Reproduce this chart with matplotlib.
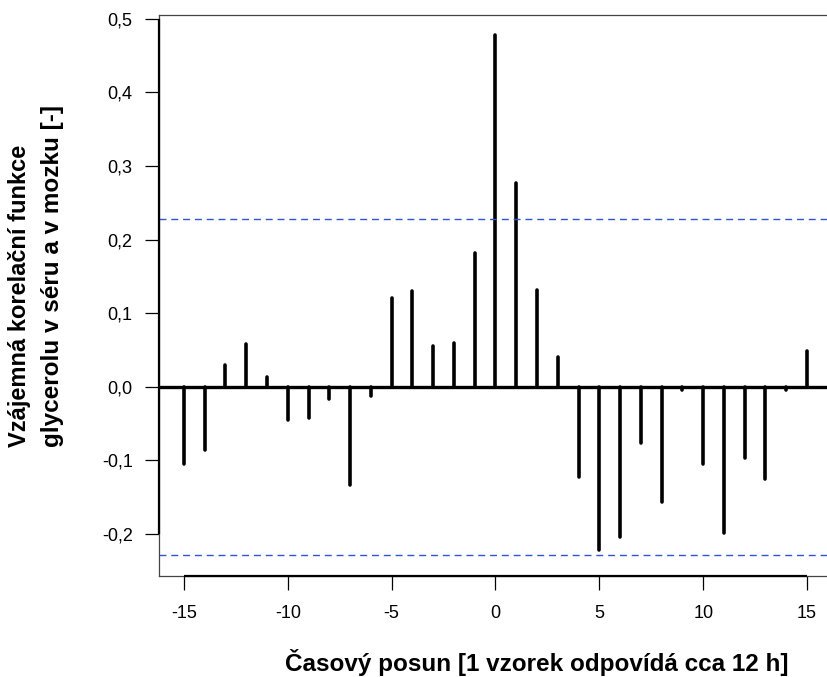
import numpy as np
import matplotlib.pyplot as plt

plt.rcParams['font.family'] = ['Liberation Sans', 'DejaVu Sans']

# cross-correlation of serum vs. brain glycerol, lags -15..15
lags = list(range(-15, 16))
ccf = [-0.105, -0.086, 0.029, 0.058, 0.013, -0.045, -0.043, -0.017, -0.134, -0.013,
       0.120, 0.130, 0.055, 0.060, 0.182,
       0.478, 0.277, 0.131, 0.041, -0.123, -0.222, -0.204, -0.077, -0.156, -0.004,
       -0.105, -0.198, -0.097, -0.125, -0.004, 0.048]
ci = 0.228  # 95% bound

xticks = [-15, -10, -5, 0, 5, 10, 15]
yticks = [-0.2, -0.1, 0.0, 0.1, 0.2, 0.3, 0.4, 0.5]
ytick_labels = ['-0,2', '-0,1', '0,0', '0,1', '0,2', '0,3', '0,4', '0,5']

fig = plt.figure(figsize=(8.27, 6.77), dpi=100)
ax = fig.add_axes([0.1923, 0.1492, 0.8137, 0.8286])

xlim = (-16.2, 16.2)
ylim = (-0.257, 0.505)
ax.set_xlim(*xlim)
ax.set_ylim(*ylim)

# spikes
vl = ax.vlines(lags, 0, ccf, colors='black', linewidth=2.6)
vl.set_capstyle('round')
ax.axhline(0, color='black', linewidth=2.4, zorder=3)

# confidence bounds
for c in (ci, -ci):
    ax.axhline(c, color='#2f55d4', linewidth=1.0, dashes=(5, 3.5))

# thin frame
for s in ax.spines.values():
    s.set_linewidth(0.9)
    s.set_color('#444444')

# heavy axis lines spanning only the tick range
ax.plot([xlim[0], xlim[0]], [yticks[0], yticks[-1]], color='black', linewidth=1.6,
        clip_on=False, solid_capstyle='butt', zorder=4)
ax.plot([xticks[0], xticks[-1]], [ylim[0], ylim[0]], color='black', linewidth=1.6,
        clip_on=False, solid_capstyle='butt', zorder=4)

ax.set_xticks(xticks)
ax.set_xticklabels([str(t) for t in xticks])
ax.set_yticks(yticks)
ax.set_yticklabels(ytick_labels)
ax.tick_params(axis='both', direction='out', length=10, width=0.9, color='black',
               labelsize=13)
ax.tick_params(axis='x', pad=11)
ax.tick_params(axis='y', pad=9)

fig.text(0.649, 0.021, 'Časový posun [1 vzorek odpovídá cca 12 h]', ha='center', va='center',
         fontsize=17.5, fontweight='bold')
fig.text(0.024, 0.34, 'Vzájemná korelační funkce', ha='center', va='bottom',
         rotation=90, fontsize=17, fontweight='bold')
fig.text(0.064, 0.34, 'glycerolu v séru a v mozku [-]', ha='center', va='bottom',
         rotation=90, fontsize=17.5, fontweight='bold')

fig.savefig('out.png', dpi=100)
